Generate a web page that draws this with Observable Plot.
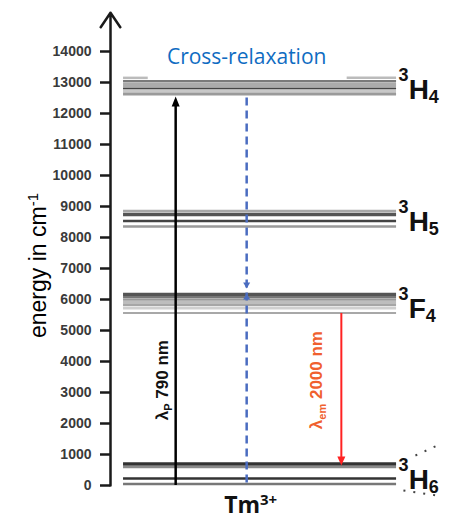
<!DOCTYPE html>
<html><head><meta charset="utf-8">
<script src="https://cdn.jsdelivr.net/npm/d3@7"></script>
<script src="https://cdn.jsdelivr.net/npm/@observablehq/plot@0.6"></script>
<style>
body{margin:0;background:#fff}
#chart svg{display:block;background:#fff}
#chart text{white-space:pre}
</style>
</head><body><div id="chart"></div>
<script>
// ---------- data ----------
const yTicks = [0,1000,2000,3000,4000,5000,6000,7000,8000,9000,10000,11000,12000,13000,14000];
const termLabels = ["3H4","3H5","3F4","3H6"];
// Stark sub-levels (cm^-1)
const levelTerm   = ["3H4","3H4","3H4","3H4","3H4",
                     "3H5","3H5","3H5","3H5",
                     "3F4","3F4","3F4","3F4","3F4","3F4","3F4",
                     "3H6","3H6","3H6","3H6"];
const levelEnergy = [13040,12920,12806,12726,12629,
                     8855,8742,8532,8355,
                     6161,6081,6000,5903,5823,5726,5565,
                     694,597,226,48];
const h4TopEnergy = 13150; // partly drawn upper line of 3H4
const transitionNames = ["pump","cross-relaxation","emission"];
const transitionFrom  = [0, 12500, 5550];
const transitionTo    = [12550, 0, 645];
const transitionLabels = ["λP 790 nm", "", "λem 2000 nm"];
const crossMarkDown = 6355, crossMarkUp = 6190;
const ionLabel = "Tm3+";
const titleLabel = "Cross-relaxation";
const yLabel = "energy in cm-1";
// dotted brace beside the 3H6 label (x units, cm^-1)
const braceX1 = [88.9, 85.4], braceX2 = [95.3, 95.3];
const braceY1 = [968, -161],  braceY2 = [1290, -323];

// ---------- styles ----------
const levelStroke = ["#7a7a7a","#ababab","#454545","#c8c8c8","#9a9a9a",
                     "#a8a8a8","#555555","#444444","#9a9a9a",
                     "#555555","#777777","#999999","#bdbdbd","#888888","#cfcfcf","#a8a8a8",
                     "#333333","#8a8a8a","#333333","#777777"];
const levelWidth  = [2.5,4,2,3,3, 2.5,3.5,2.5,2.5, 3.5,2,2.5,3,1.5,3,2, 3.5,2.5,2.5,2.5];
const X0 = 3.8, X1 = 83.4;             // level line extent (x units)
const pumpX = 19, crossX = 39.7, emX = 67.3, termX = 84;
const blue = "#4a6cc0", red = "#ff2222";

const triUp = (w,h) => ({draw(ctx){ctx.moveTo(0,0);ctx.lineTo(-w/2,h);ctx.lineTo(w/2,h);ctx.closePath();}});
const triDown = (w,h) => ({draw(ctx){ctx.moveTo(0,0);ctx.lineTo(-w/2,-h);ctx.lineTo(w/2,-h);ctx.closePath();}});

const idx = d3.range(levelEnergy.length);
const termMin = t => d3.min(idx.filter(i => levelTerm[i] === t), i => levelEnergy[i]);

const chart = Plot.plot({
  width: 453, height: 522,
  marginTop: 51, marginBottom: 37, marginLeft: 110, marginRight: 0,
  style: {fontFamily: "'Liberation Sans', Arial, sans-serif", background: "#fff"},
  x: {domain: [0, 100], axis: null},
  y: {domain: [0, 14000]},
  marks: [
    // energy levels
    Plot.ruleY(idx, {y: i => levelEnergy[i], x1: X0, x2: X1, stroke: i => levelStroke[i], strokeWidth: i => levelWidth[i]}),
    Plot.ruleY([0, 1], {y: h4TopEnergy, x1: [X0, 69], x2: [11, X1], stroke: "#bbbbbb", strokeWidth: 2.5}),
    // axis
    Plot.axisY({ticks: yTicks, tickSize: 10, tickPadding: 9, tickFormat: d => String(d), label: null,
      fontSize: 14, fontWeight: "bold", fill: "#3a3a3a", stroke: "#1a1a1a", strokeWidth: 2.5}),
    Plot.arrow([0], {x1: 0, x2: 0, y1: 0, y2: 15250, stroke: "#1a1a1a", strokeWidth: 2.5, headAngle: 68, headLength: 10.5}),
    // pump
    Plot.ruleX([0], {x: pumpX, y1: transitionFrom[0], y2: transitionTo[0] - 300, stroke: "#000", strokeWidth: 2.5}),
    Plot.dot([0], {x: pumpX, y: transitionTo[0], symbol: triUp(8, 10), fill: "#000", stroke: "none"}),
    // cross-relaxation
    Plot.ruleX([0], {x: crossX, y1: transitionFrom[1], y2: transitionTo[1], stroke: blue, strokeWidth: 2.5, strokeDasharray: "8,5"}),
    Plot.dot([0], {x: crossX, y: crossMarkDown, symbol: triDown(7, 6), fill: blue, stroke: "none"}),
    Plot.dot([0], {x: crossX, y: crossMarkUp, symbol: triUp(7, 6), fill: blue, stroke: "none"}),
    // emission
    Plot.ruleX([0], {x: emX, y1: transitionFrom[2], y2: transitionTo[2] + 260, stroke: red, strokeWidth: 2}),
    Plot.dot([0], {x: emX, y: transitionTo[2], symbol: triDown(8, 9), fill: red, stroke: "none"}),
    // transition labels
    Plot.text([transitionLabels[0]], {x: pumpX, y: 3400, dx: -8, rotate: -90, textAnchor: "middle", lineAnchor: "bottom", fontWeight: "bold", fill: "#111"}),
    Plot.text([transitionLabels[2]], {x: emX, y: 3400, dx: -19, rotate: -90, textAnchor: "middle", lineAnchor: "bottom", fontWeight: "bold", fill: "#f0602e"}),
    // term labels
    Plot.text(termLabels, {x: termX, y: t => termMin(t), dy: 5, textAnchor: "start", lineAnchor: "bottom", fontWeight: "bold", fill: "#111"}),
    Plot.link([0, 1], {x1: i => braceX1[i], x2: i => braceX2[i], y1: i => braceY1[i], y2: i => braceY2[i], stroke: "#444", strokeWidth: 2, strokeDasharray: "2,8"}),
    // title & ion
    Plot.text([titleLabel], {x: crossX, frameAnchor: "top", dy: 12, lineAnchor: "bottom", textAnchor: "middle", fontFamily: "'Open Sans', sans-serif", fontSize: 21, fill: "#0f6cc2"}),
    Plot.text([ionLabel], {x: crossX, frameAnchor: "bottom", dy: 27, dx: 4, lineAnchor: "bottom", textAnchor: "middle", fontFamily: "'Open Sans', sans-serif", fontWeight: "bold", fill: "#111"}),
    // y label
    Plot.text([yLabel], {frameAnchor: "left", dx: -65, dy: -3, rotate: -90, textAnchor: "middle", lineAnchor: "bottom", fill: "#000"})
  ]
});
document.getElementById("chart").appendChild(chart);

// ---------- rich text (super/subscripts) ----------
function rich(raw, parts) {
  d3.select(chart).selectAll("text").filter(function(){ return this.textContent === raw; }).each(function(){
    const t = d3.select(this); t.text(null);
    let prev = 0;
    for (const [s, size, shift] of parts) {
      t.append("tspan").attr("font-size", size).attr("dy", shift - prev).text(s);
      prev = shift;
    }
  });
}
for (const lab of termLabels) rich(lab, [[lab[0], 18, -18], [lab[1], 28, 0], [lab[2], 18, 4]]);
rich(ionLabel, [["Tm", 23, 0], ["3+", 15, -8]]);
rich(yLabel, [["energy in cm", 23, 0], ["-1", 15, -8]]);
rich(transitionLabels[0], [["λ", 17, 0], ["P", 11, 4], [" 790 nm", 17, 0]]);
rich(transitionLabels[2], [["λ", 17, 0], ["em", 11, 4], [" 2000 nm", 17, 0]]);
</script>
</body></html>
